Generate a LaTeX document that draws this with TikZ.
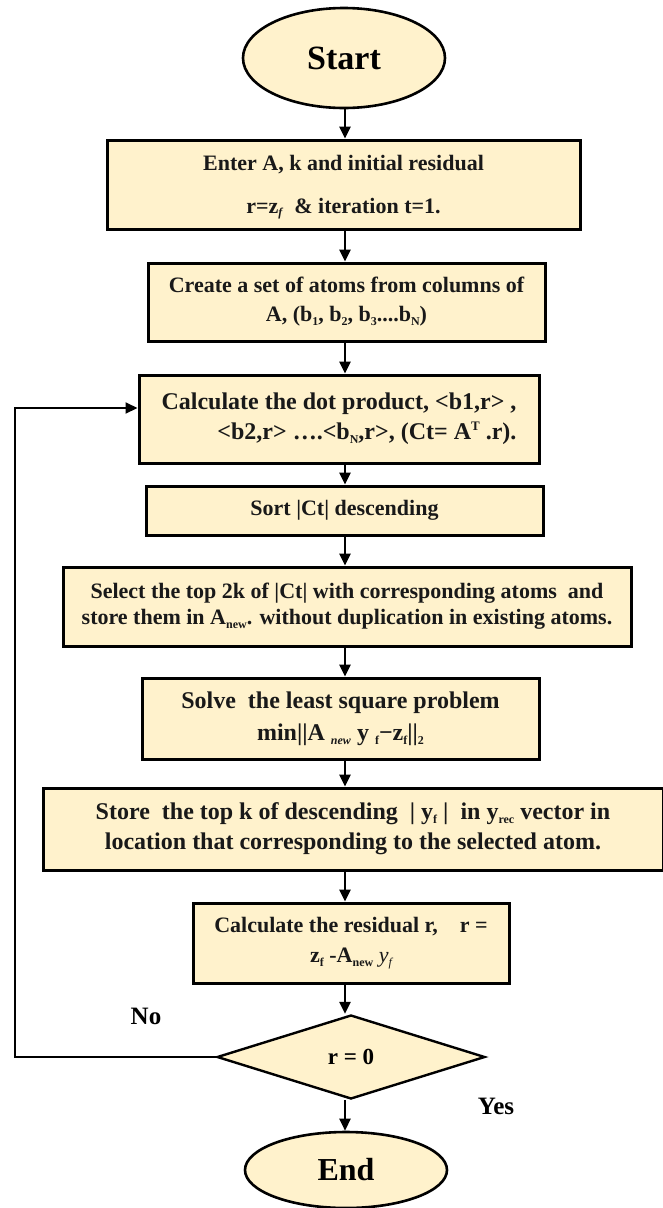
\documentclass[tikz,border=0pt]{standalone}
\usepackage{fontspec}
\setmainfont{Liberation Serif}
\usetikzlibrary{shapes.geometric,arrows.meta}
\definecolor{cream}{HTML}{FFF2CC}
\newcommand\lo[1]{\raisebox{-0.35ex}{\fontsize{12}{12}\selectfont #1}}
\newcommand\hi[1]{\raisebox{0.85ex}{\fontsize{13}{13}\selectfont #1}}
\begin{document}
\begin{tikzpicture}[x=1pt,y=-1pt,
 box/.style={draw=black, line width=3pt, fill=cream, rectangle, inner sep=0pt, align=center, text=black!90, font=\bfseries\fontsize{22}{29}\selectfont},
 bigtext/.style={font=\bfseries\fontsize{24}{30}\selectfont},
 term/.style={draw=black, line width=2.6pt, fill=cream, ellipse, inner sep=0pt, font=\bfseries\fontsize{34}{40}\selectfont},
 dec/.style={draw=black, line width=2.4pt, fill=cream, diamond, inner sep=0pt, font=\bfseries\fontsize{23}{24}\selectfont},
 arr/.style={line width=2.5pt, -{Triangle[length=12pt,width=11pt]}},
 loopline/.style={line width=2pt, -{Triangle[length=12pt,width=11pt]}},
 lab/.style={font=\bfseries\fontsize{25}{28}\selectfont}]
\useasboundingbox[fill=white] (0,0) rectangle (663,1208);
\coordinate (sp) at (345,0);
\coordinate (lp) at (15,0);
\node[term, minimum width=202pt, minimum height=100pt] (start) at (344,58) {Start};
\node[box, minimum width=473pt, minimum height=89pt] (b1) at (343.5,184.5) {};
\node[font=\bfseries\fontsize{22}{29}\selectfont, text=black!90, align=center, inner sep=0pt] (b1t) at (343.5,187) {Enter A, k and initial residual\\[14pt] r=z\lo{\textit{f}}~ \& iteration t=1.};
\node[box, minimum width=397pt, minimum height=78pt] (b2) at (346.5,302) {Create a set of atoms from columns of\\ A, (b\lo{1}, b\lo{2}, b\lo{3}....b\lo{N})};
\node[box, bigtext, minimum width=400pt, minimum height=88pt, align=right] (b3) at (339,419) {Calculate the dot product, {<}b1,r{>} ,\\ {<}b2,r{>} ….{<}b\lo{N},r{>}, (Ct= A\hi{T} .r).};
\node[box, minimum width=397pt, minimum height=49pt] (b4) at (344.5,510.5) {Sort |Ct| descending};
\node[box, font=\bfseries\fontsize{22}{26}\selectfont, minimum width=568pt, minimum height=79pt] (b5) at (347,606.5) {Select the top 2k of |Ct| with corresponding atoms~ and\\ store them in A\lo{new}. without duplication in existing atoms.};
\node[box, font=\bfseries\fontsize{24}{32}\selectfont, minimum width=397pt, minimum height=81pt] (b6) at (340.5,718.5) {Solve~ the least square problem\\ min||A \lo{\textit{new}} y \lo{f}{\textminus}z\lo{f}||\lo{2}};
\node[box, bigtext, minimum width=620pt, minimum height=82pt] (b7) at (353,829) {Store~ the top k of descending~ | y\lo{f} |~ in y\lo{rec} vector in\\ location that corresponding to the selected atom.};
\node[box, font=\bfseries\fontsize{22}{30}\selectfont, minimum width=316pt, minimum height=80pt] (b8) at (351,943) {Calculate the residual r, ~~ r =\\ z\lo{f} -A\lo{new} {\mdseries\itshape y\lo{f}}};
\node[dec, minimum width=268pt, minimum height=84pt] (dec) at (351,1057) {r = 0};
\node[term, minimum width=202pt, minimum height=76pt, font=\bfseries\fontsize{32}{38}\selectfont] (end) at (346,1170) {End};
\node[lab] (no) at (146,1016) {No};
\node[lab] (yes) at (496,1106) {Yes};
\draw[arr] (start.south -| sp) -- (b1.north -| sp);
\draw[arr] (b1.south -| sp) -- (b2.north -| sp);
\draw[arr] (b2.south -| sp) -- (b3.north -| sp);
\draw[arr] (b3.south -| sp) -- (b4.north -| sp);
\draw[arr] (b4.south -| sp) -- (b5.north -| sp);
\draw[arr] (b5.south -| sp) -- (b6.north -| sp);
\draw[arr] (b6.south -| sp) -- (b7.north -| sp);
\draw[arr] (b7.south -| sp) -- (b8.north -| sp);
\draw[arr] (b8.south -| sp) -- (dec.north -| sp);
\draw[arr] (dec.south -| sp) -- (end.north -| sp);
\draw[loopline] (dec.west) -- (dec.west -| lp) |- ([yshift=11pt]b3.west);
\end{tikzpicture}
\end{document}
